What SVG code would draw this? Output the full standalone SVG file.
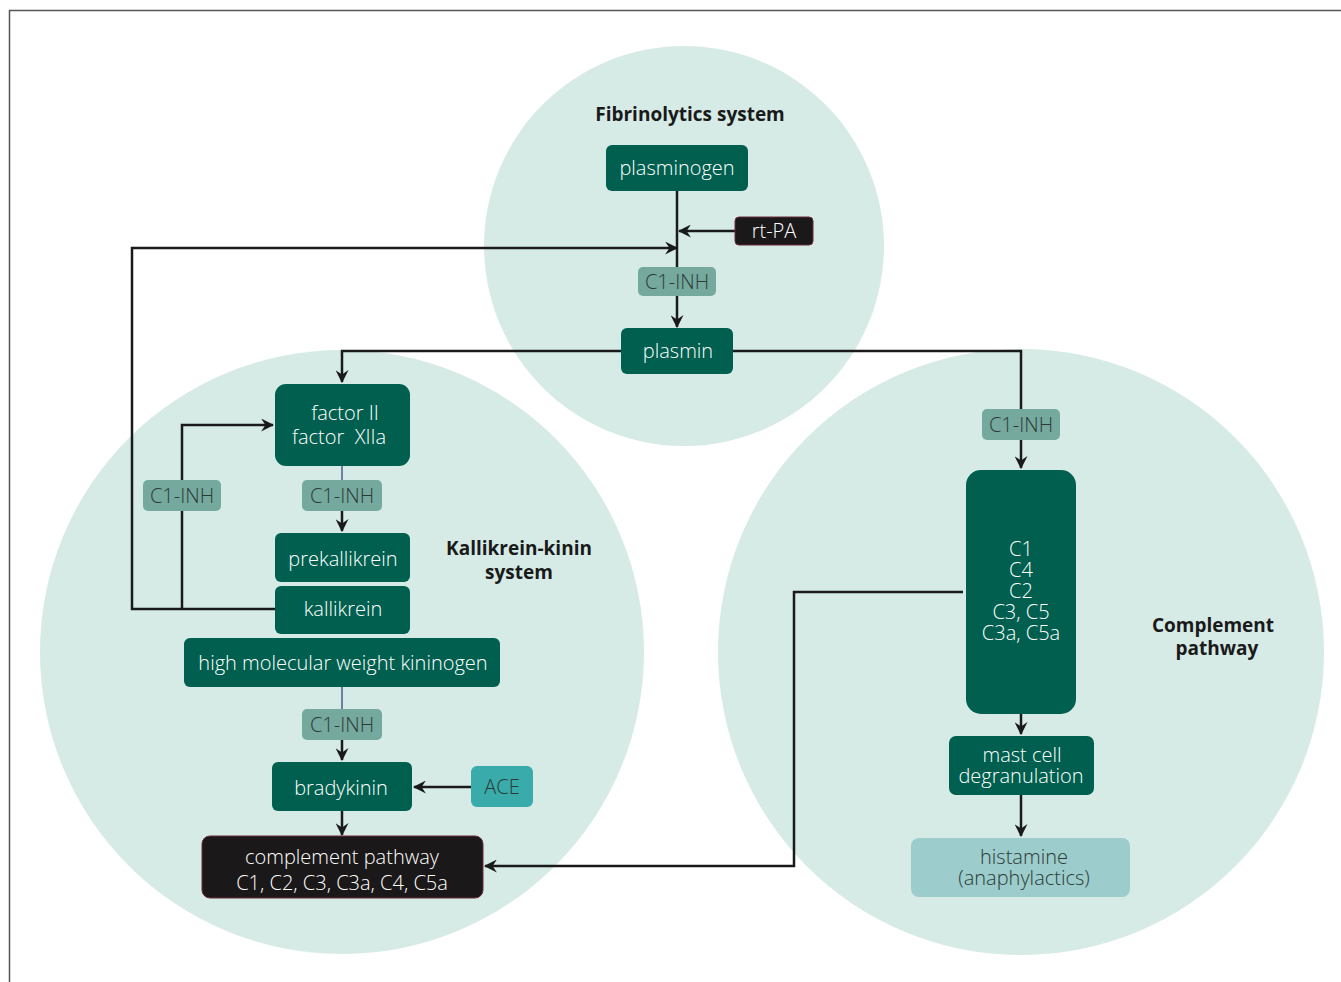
<svg xmlns="http://www.w3.org/2000/svg" width="1341" height="982" viewBox="0 0 1341 982">
<style>
.bg{fill:#d6ebe6}
.dk{fill:#005f4e}
.inh{fill:#75a99e}
.blk{fill:#1b1819;stroke:#6b2a3a;stroke-width:1}
.t{font-family:"Open Sans","Noto Sans",sans-serif;font-weight:300;font-size:20px;text-anchor:middle}
.w{fill:#ffffff}
.g{fill:#2d3a36}
.h{font-family:"Open Sans","Noto Sans",sans-serif;font-weight:700;font-size:19px;fill:#1a1a1a;text-anchor:middle}
.ln{fill:none;stroke:#1a1a1a;stroke-width:2.5}
.ln2{fill:none;stroke:#1a1a1a;stroke-width:2.5;marker-end:url(#ah)}
.blue{stroke:#1f3a7a;stroke-width:1.2;fill:none}
</style>
<defs>
<marker id="ah" viewBox="0 0 12 12" refX="11" refY="6" markerWidth="13" markerHeight="13" markerUnits="userSpaceOnUse" orient="auto">
<path d="M0,0 L12,6 L0,12 L4,6 z" fill="#1a1a1a"/>
</marker>
</defs>
<rect x="0" y="0" width="1341" height="982" fill="#ffffff"/>
<path d="M9.5,982 V10.5 H1341" fill="none" stroke="#555" stroke-width="1.5"/>
<g id="circles">
<circle class="bg" cx="684" cy="246" r="200"/>
<circle class="bg" cx="342" cy="652" r="302"/>
<circle class="bg" cx="1021" cy="652" r="303"/>
</g>
<g id="titles">
<text class="h" x="690" y="121">Fibrinolytics system</text>
<text class="h" x="519" y="555">Kallikrein-kinin</text>
<text class="h" x="519" y="579">system</text>
<text class="h" x="1213" y="632">Complement</text>
<text class="h" x="1217" y="655">pathway</text>
</g>
<g id="connectors">
<path class="ln" d="M677,191 V267"/>
<path class="ln2" d="M677,296 V327"/>
<path class="ln2" d="M735,231 H679"/>
<path class="ln2" d="M275,609 H132 V248 H677"/>
<path class="ln" d="M182,609 V511"/>
<path class="ln2" d="M182,480 V425 H273"/>
<path class="ln2" d="M621,351 H342 V382"/>
<path class="ln" d="M733,351 H1021 V409"/>
<path class="ln2" d="M1021,440 V468"/>
<path class="blue" d="M342,466 V480"/>
<path class="ln2" d="M342,511 V531"/>
<path class="blue" d="M342,687 V709"/>
<path class="ln2" d="M342,740 V760"/>
<path class="ln2" d="M471,787 H414"/>
<path class="ln2" d="M342,811 V835"/>
<path class="ln2" d="M963,592 H794 V866 H485"/>
<path class="ln2" d="M1021,714 V734"/>
<path class="ln2" d="M1021,795 V836"/>
</g>
<g id="plasminogen"><rect class="dk" x="606" y="145" width="142" height="46" rx="6"/><text class="t w" x="677" y="175">plasminogen</text></g>
<g id="rtpa"><rect class="blk" x="735" y="217" width="78" height="28" rx="4"/><text class="t w" x="774" y="238">rt-PA</text></g>
<g id="inh1"><rect class="inh" x="638" y="267" width="78" height="29" rx="5"/><text class="t g" x="677" y="289">C1-INH</text></g>
<g id="plasmin"><rect class="dk" x="621" y="328" width="112" height="46" rx="6"/><text class="t w" x="678" y="358">plasmin</text></g>
<g id="factor"><rect class="dk" x="275" y="384" width="135" height="82" rx="11"/><text class="t w" x="345" y="420">factor II</text><text class="t w" x="339" y="444" xml:space="preserve">factor  XIIa</text></g>
<g id="inh2"><rect class="inh" x="143" y="480" width="78" height="31" rx="5"/><text class="t g" x="182" y="503">C1-INH</text></g>
<g id="inh3"><rect class="inh" x="302" y="480" width="80" height="31" rx="5"/><text class="t g" x="342" y="503">C1-INH</text></g>
<g id="prekallikrein"><rect class="dk" x="275" y="533" width="135" height="49" rx="6"/><text class="t w" x="343" y="566">prekallikrein</text></g>
<g id="kallikrein"><rect class="dk" x="275" y="586" width="135" height="48" rx="6"/><text class="t w" x="343" y="616">kallikrein</text></g>
<g id="hmwk"><rect class="dk" x="184" y="638" width="316" height="49" rx="6"/><text class="t w" x="343" y="670">high molecular weight kininogen</text></g>
<g id="inh4"><rect class="inh" x="302" y="709" width="80" height="31" rx="5"/><text class="t g" x="342" y="732">C1-INH</text></g>
<g id="bradykinin"><rect class="dk" x="272" y="762" width="140" height="49" rx="6"/><text class="t w" x="341" y="795">bradykinin</text></g>
<g id="ace"><rect x="471" y="766" width="62" height="41" rx="6" fill="#38abaa"/><text class="t g" x="502" y="794">ACE</text></g>
<g id="complement"><rect class="blk" x="202" y="836" width="281" height="62" rx="8"/><text class="t w" x="342" y="864">complement pathway</text><text class="t w" x="342" y="890">C1, C2, C3, C3a, C4, C5a</text></g>
<g id="inh5"><rect class="inh" x="982" y="409" width="78" height="31" rx="5"/><text class="t g" x="1021" y="432">C1-INH</text></g>
<g id="cbox"><rect class="dk" x="966" y="470" width="110" height="244" rx="15"/>
<text class="t w" x="1021" y="556">C1</text><text class="t w" x="1021" y="577">C4</text><text class="t w" x="1021" y="598">C2</text><text class="t w" x="1021" y="619">C3, C5</text><text class="t w" x="1021" y="640">C3a, C5a</text></g>
<g id="mastcell"><rect class="dk" x="949" y="736" width="145" height="59" rx="7"/><text class="t w" x="1022" y="762">mast cell</text><text class="t w" x="1021" y="783">degranulation</text></g>
<g id="histamine"><rect x="911" y="838" width="219" height="59" rx="8" fill="#9ccccb"/><text class="t g" x="1024" y="864">histamine</text><text class="t g" x="1024" y="885">(anaphylactics)</text></g>
</svg>
